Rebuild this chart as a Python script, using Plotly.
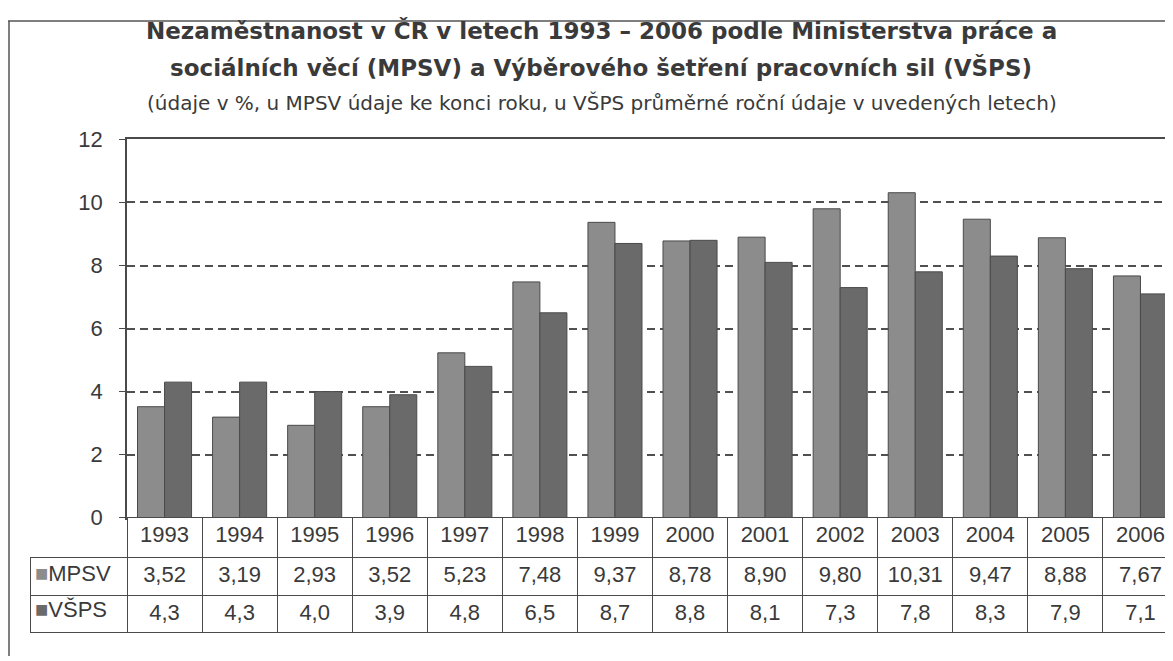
import plotly.graph_objects as go

years = ["1993", "1994", "1995", "1996", "1997", "1998", "1999",
         "2000", "2001", "2002", "2003", "2004", "2005", "2006"]
mpsv = [3.52, 3.19, 2.93, 3.52, 5.23, 7.48, 9.37, 8.78, 8.90, 9.80, 10.31, 9.47, 8.88, 7.67]
vsps = [4.3, 4.3, 4.0, 3.9, 4.8, 6.5, 8.7, 8.8, 8.1, 7.3, 7.8, 8.3, 7.9, 7.1]
series_names = ["MPSV", "VŠPS"]
y_ticks = [0, 2, 4, 6, 8, 10, 12]

title_l1 = "Nezaměstnanost v ČR v letech 1993 – 2006 podle Ministerstva práce a"
title_l2 = "sociálních věcí (MPSV) a Výběrového šetření pracovních sil (VŠPS)"
subtitle = "(údaje v %, u MPSV údaje ke konci roku, u VŠPS průměrné roční údaje v uvedených letech)"

W, H = 1173, 661
OFF = 8            # page body margin
VS, VO = 0.9617, 11.9   # observed vertical mapping of the rendered page


def px(x):
    return (x - OFF) / W


def py(y):
    s = (y - VO) / VS - OFF
    return 1 - s / H


C_MPSV = "#8c8c8c"
C_VSPS = "#6a6a6a"
EDGE = "#4a4a4a"
TXT = "#3a3a3a"
NARROW = "Liberation Sans Narrow, Liberation Sans, Arial"

fig = go.Figure()
fig.add_trace(go.Bar(x=years, y=mpsv, name=series_names[0],
                     marker=dict(color=C_MPSV, line=dict(color=EDGE, width=1)), showlegend=False))
fig.add_trace(go.Bar(x=years, y=vsps, name=series_names[1],
                     marker=dict(color=C_VSPS, line=dict(color=EDGE, width=1)), showlegend=False))

# data table below the plot
x_left_plot, x_right_plot, x_left_tab = 127, 1178, 30
col_w = (x_right_plot - x_left_plot) / len(years)
header_vals = [""] + years
cell_vals = [["", ""]]
for m, v in zip(mpsv, vsps):
    cell_vals.append([f"{m:.2f}".replace(".", ","), f"{v:.1f}".replace(".", ",")])

fig.add_trace(go.Table(
    domain=dict(x=[px(x_left_tab), px(x_right_plot)], y=[0, py(517)]),
    columnwidth=[x_left_plot - x_left_tab] + [col_w] * len(years),
    header=dict(values=header_vals, height=40,
                fill=dict(color=["rgba(0,0,0,0)"] + ["white"] * len(years)),
                line=dict(color=["rgba(0,0,0,0)"] + [EDGE] * len(years), width=1),
                font=dict(family=NARROW, size=22, color=TXT), align="center"),
    cells=dict(values=cell_vals, height=37.5, fill_color="white",
               line=dict(color=EDGE, width=1),
               font=dict(family=NARROW, size=22, color=TXT), align="center"),
))

fig.update_layout(
    width=W, height=H,
    margin=dict(l=0, r=0, t=0, b=0),
    paper_bgcolor="white", plot_bgcolor="white",
    barmode="group", bargap=0.28, bargroupgap=0,
    xaxis=dict(domain=[px(x_left_plot), px(x_right_plot)], range=[-0.5, len(years) - 0.5],
               showticklabels=False, ticks="", showgrid=False,
               showline=True, linecolor=EDGE, linewidth=1.5, mirror=True, zeroline=False),
    yaxis=dict(domain=[py(517), py(139)], range=[0, 12], tickvals=y_ticks,
               showgrid=True, gridcolor="#505050", griddash="8px,5px", gridwidth=1.5,
               showline=True, linecolor=EDGE, linewidth=1.5, ticks="outside", ticklen=6, tickcolor=EDGE,
               ticklabelstandoff=12,
               tickfont=dict(family=NARROW, size=22, color=TXT), zeroline=False),
    font=dict(family="Liberation Sans, Arial", color=TXT),
)

fig.add_annotation(x=px(601), y=py(30), xref="paper", yref="paper", yanchor="middle", text="<b>" + title_l1 + "</b>",
                   showarrow=False, font=dict(family="DejaVu Sans", size=23, color=TXT))
fig.add_annotation(x=px(601), y=py(67), xref="paper", yref="paper", yanchor="middle", text="<b>" + title_l2 + "</b>",
                   showarrow=False, font=dict(family="DejaVu Sans", size=23, color=TXT))
fig.add_annotation(x=px(602), y=py(103), xref="paper", yref="paper", yanchor="middle", text=subtitle,
                   showarrow=False, font=dict(family="DejaVu Sans", size=20, color=TXT))

# row labels with legend swatches in the table's first column
for name, col, ry in [(series_names[0], C_MPSV, 573), (series_names[1], C_VSPS, 609)]:
    fig.add_annotation(x=px(33), y=py(ry), xref="paper", yref="paper", xanchor="left", yanchor="middle",
                       text=f"<span style='color:{col}'>■</span>{name}", showarrow=False,
                       font=dict(family=NARROW, size=22, color=TXT))

# outer frame (top and left edges)
fig.add_shape(type="line", xref="paper", yref="paper", x0=0, x1=1, y0=1 - 1 / H, y1=1 - 1 / H,
              line=dict(color="#555555", width=1.5), layer="below")
fig.add_shape(type="line", xref="paper", yref="paper", x0=1 / W, x1=1 / W, y0=0, y1=1 - 1 / H,
              line=dict(color="#555555", width=1.5), layer="below")

fig.write_html("out.html")
